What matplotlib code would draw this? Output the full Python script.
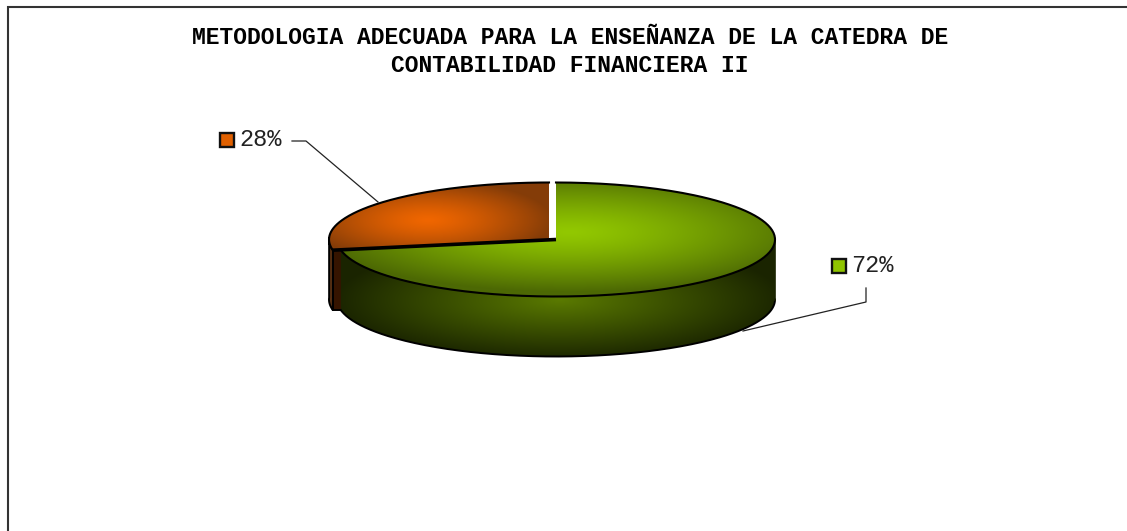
import numpy as np
import matplotlib
matplotlib.use('Agg')
import matplotlib.pyplot as plt
from matplotlib.patches import Polygon, Rectangle

title_lines = ['METODOLOGIA ADECUADA PARA LA ENSEÑANZA DE LA CATEDRA DE',
               'CONTABILIDAD FINANCIERA II']
values = [72, 28]
labels = ['72%', '28%']

W, H = 1127, 531
cy, ry = 239.5, 57.0
depth = 60.0
# the two slices sit on slightly different centres, which leaves the white gap
big_cx, big_rx = 556.0, 219.0
small_cx, small_rx = 549.0, 220.0


def rim(cx, rx, a0, a1, dy=0.0, n=200):
    # angles are clockwise from 12 o'clock
    a = np.radians(np.linspace(a0, a1, n))
    return np.column_stack([cx + rx * np.sin(a), cy + dy - ry * np.cos(a)])


def shade(ax, patch, z, fx, fy, sx, sy, inner, outer, power=1.0):
    # radial gradient clipped to a patch
    xs, ys = np.meshgrid(np.arange(W) + 0.5, np.arange(H) + 0.5)
    t = np.clip(np.hypot((xs - fx) / sx, (ys - fy) / sy), 0, 1) ** power
    rgb = np.array(inner)[None, None, :] * (1 - t[..., None]) + np.array(outer)[None, None, :] * t[..., None]
    im = ax.imshow(rgb / 255.0, extent=(0, W, H, 0), interpolation='bilinear', zorder=z, aspect='auto')
    ax.add_patch(patch)
    im.set_clip_path(patch)


fig = plt.figure(figsize=(W / 100, H / 100), dpi=100)
ax = fig.add_axes([0, 0, 1, 1])
ax.set_xlim(0, W)
ax.set_ylim(H, 0)
ax.axis('off')

# chart frame: only the top and left edges are drawn
ax.plot([W, 7.5, 7.5], [6.5, 6.5, H], color='#333333', lw=1.5, zorder=1, solid_joinstyle='miter')

split = 360.0 * values[0] / sum(values)

# side wall of the small slice: outer skin and the cut face next to it
outer = rim(small_cx, small_rx, split, 272)
skin = np.vstack([outer, (outer + [0, depth])[::-1]])
ax.add_patch(Polygon(skin, closed=True, fc='#5a3214', ec='black', lw=1.4, zorder=3))
tip = rim(small_cx, small_rx, split, split, n=1)[0]
ax.add_patch(Polygon([tip, tip + [10, 0], tip + [10, depth], tip + [0, depth]], closed=True,
                     fc='#351400', ec='black', lw=1.4, zorder=3))

# side wall of the big slice
top = rim(big_cx, big_rx, 90, split)
wall = np.vstack([top, (top + [0, depth])[::-1]])
wall_patch = Polygon(wall, closed=True, fc='none', ec='none', zorder=4)
shade(ax, wall_patch, 4, 560, 300, 225, 60, (90, 122, 0), (26, 36, 0), 1.0)
ax.plot(*rim(big_cx, big_rx, 90, split, dy=depth).T, color='black', lw=1.4, zorder=5)
ax.plot([big_cx + big_rx] * 2, [cy, cy + depth], color='#1a2400', lw=1.2, zorder=5)

# top face of the big slice
green = np.vstack([[[big_cx, cy]], rim(big_cx, big_rx, 0, split)])
green_patch = Polygon(green, closed=True, fc='none', ec='none', zorder=6)
shade(ax, green_patch, 6, 570, 232, 250, 60, (146, 200, 0), (76, 104, 4), 1.3)
ax.plot(*rim(big_cx, big_rx, 0, split).T, color='black', lw=1.5, zorder=7)

# top face of the small slice
orange = np.vstack([[[small_cx, cy]], rim(small_cx, small_rx, split, 360)])
orange_patch = Polygon(orange, closed=True, fc='none', ec='none', zorder=6)
shade(ax, orange_patch, 6, 428, 220, 125, 40, (240, 102, 0), (132, 60, 8), 1.3)
ax.plot(*rim(small_cx, small_rx, split, 360).T, color='black', lw=1.5, zorder=7)

# heavy edge under the small slice
ax.plot([big_cx, tip[0]], [cy, tip[1]], color='black', lw=2.6, zorder=8, solid_capstyle='butt')

# leader lines
ax.plot([292, 306, 378], [141, 141, 202], color='#222222', lw=0.9, zorder=8)
ax.plot([866, 866, 743], [288, 302, 331], color='#222222', lw=0.9, zorder=8)

# data labels with their colour keys
ax.add_patch(Rectangle((219.5, 133), 14, 14, fc='#e06000', ec='#111111', lw=1.7, zorder=8))
ax.text(239, 140, labels[1], family='Liberation Mono', fontsize=17, color='#222222', va='center', ha='left')
ax.add_patch(Rectangle((832, 258.5), 14, 14, fc='#8fc400', ec='#111111', lw=1.7, zorder=8))
ax.text(851, 266, labels[0], family='Liberation Mono', fontsize=17, color='#222222', va='center', ha='left')

# title
ax.text(570, 37, title_lines[0], family='Liberation Mono', fontweight='bold', fontsize=16.6,
        ha='center', va='center', color='black')
ax.text(570, 66, title_lines[1], family='Liberation Mono', fontweight='bold', fontsize=16.6,
        ha='center', va='center', color='black')

fig.savefig('out.png', dpi=100)
